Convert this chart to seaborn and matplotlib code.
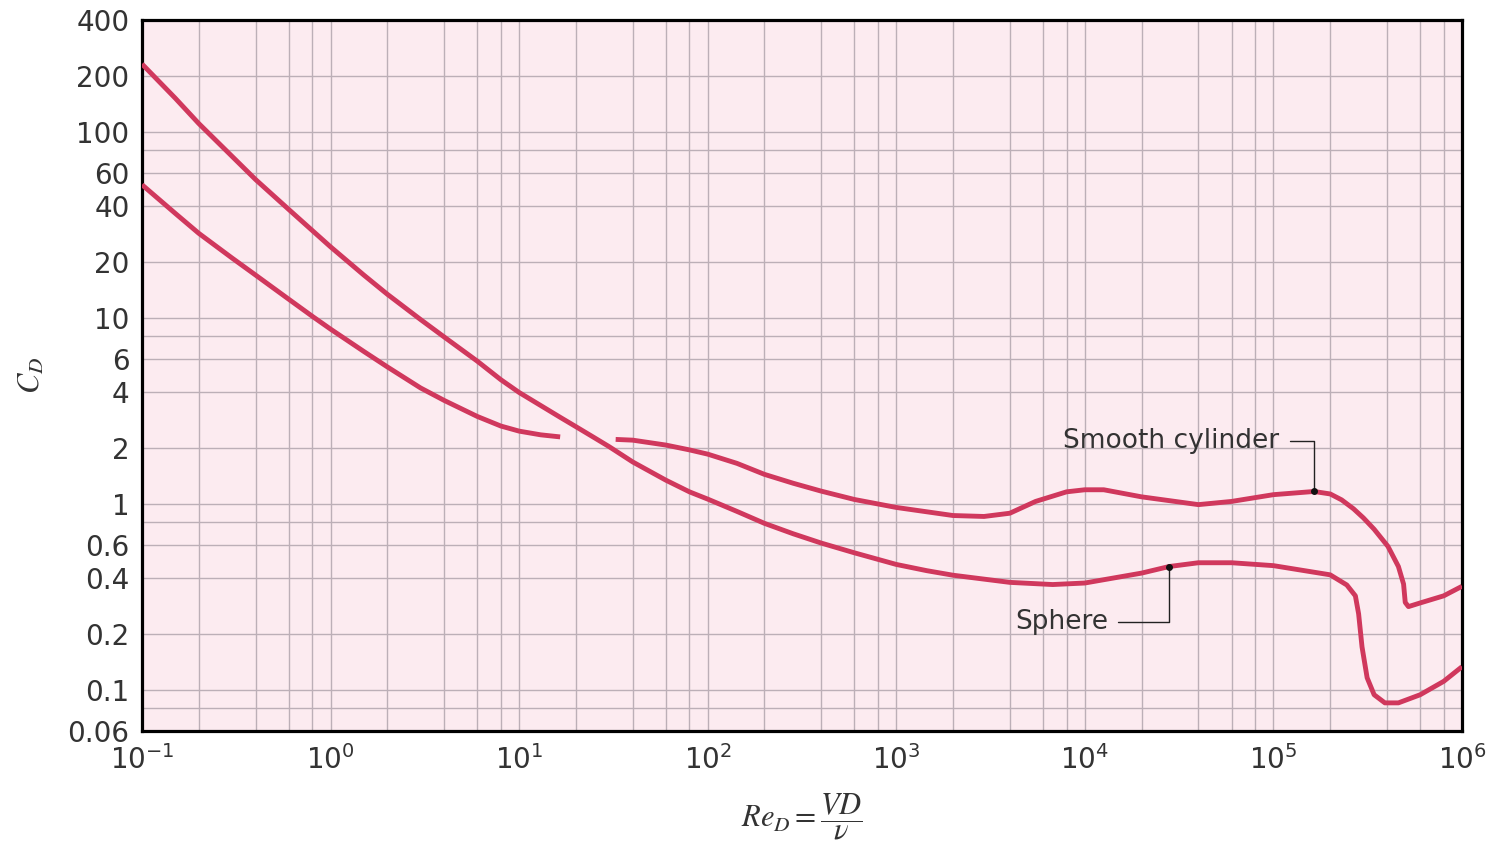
import numpy as np
import pandas as pd
import matplotlib
matplotlib.use("Agg")
import matplotlib.pyplot as plt
from matplotlib.ticker import FixedLocator, NullFormatter
import seaborn as sns

# ---------------- data ----------------
sphere_re = [0.1, 0.15, 0.2, 0.3, 0.4, 0.6, 0.8, 1.0, 1.5, 2.0, 3.0, 4.0, 6.0,
             8.0, 10.0, 13.0, 16.5, 20.0, 25.0, 30.0, 40.0, 60.0, 80.0, 100.0,
             143.0, 200.0, 284.0, 400.0, 600.0, 1000.0, 1450.0, 2000.0,
             4000.0, 6750.0, 10000.0, 20000.0, 28000.0, 40000.0, 60000.0,
             100000.0, 200000.0, 245000.0, 272000.0, 283000.0, 295000.0,
             314000.0, 342000.0, 390000.0, 460000.0, 600000.0, 800000.0,
             1000000.0]
sphere_cd = [232, 152, 111, 74, 55.5, 38.3, 29.5, 24.1, 17.0, 13.4, 9.8, 7.9, 5.85,
             4.65, 3.97, 3.38, 2.92, 2.6, 2.27, 2.03, 1.68, 1.34, 1.16, 1.06,
             0.91, 0.785, 0.69, 0.615, 0.545, 0.472, 0.437, 0.413,
             0.378, 0.368, 0.375, 0.424, 0.46, 0.482, 0.482,
             0.465, 0.415, 0.366, 0.32, 0.256, 0.17,
             0.116, 0.094, 0.085, 0.085, 0.094, 0.111,
             0.133]

cyl_low_re = [0.1, 0.15, 0.2, 0.3, 0.4, 0.6, 0.8, 1.0, 1.5, 2.0, 3.0, 4.0, 6.0,
              8.0, 10.0, 13.0, 16.5]
cyl_low_cd = [52, 36.5, 28.5, 21.0, 17.0, 12.6, 10.2, 8.7, 6.6, 5.45, 4.2, 3.6,
              2.95, 2.62, 2.46, 2.35, 2.29]

cyl_high_re = [32.5, 40.0, 60.0, 80.0, 100.0, 143.0, 200.0, 284.0, 400.0, 600.0,
               1000.0, 1450.0, 2000.0, 2920.0, 4000.0, 5480.0, 8000.0, 10000.0,
               12600.0, 20000.0, 40000.0, 60000.0, 100000.0, 164000.0, 200000.0,
               230000.0, 266000.0, 300000.0, 342000.0, 405000.0, 460000.0,
               490000.0, 500000.0, 520000.0, 600000.0, 800000.0, 1000000.0]
cyl_high_cd = [2.22, 2.2, 2.07, 1.95, 1.85, 1.65, 1.44, 1.29, 1.17, 1.055,
               0.956, 0.906, 0.865, 0.855, 0.89, 1.03, 1.16, 1.19,
               1.19, 1.09, 0.99, 1.03, 1.12, 1.165, 1.13,
               1.05, 0.94, 0.84, 0.73, 0.59, 0.46,
               0.37, 0.295, 0.28, 0.293, 0.32, 0.36]

x_major = [1e-1, 1e0, 1e1, 1e2, 1e3, 1e4, 1e5, 1e6]
x_major_labels = [r"$10^{-1}$", r"$10^{0}$", r"$10^{1}$", r"$10^{2}$",
                  r"$10^{3}$", r"$10^{4}$", r"$10^{5}$", r"$10^{6}$"]
y_major = [0.06, 0.1, 0.2, 0.4, 0.6, 1, 2, 4, 6, 10, 20, 40, 60, 100, 200, 400]
y_major_labels = ["0.06", "0.1", "0.2", "0.4", "0.6", "1", "2", "4", "6",
                  "10", "20", "40", "60", "100", "200", "400"]
y_minor = [0.08, 0.8, 8, 80]

label_cyl = "Smooth cylinder"
label_sph = "Sphere"

# ---------------- style ----------------
sns.set_theme(style="ticks")
plt.rcParams["font.family"] = ["DejaVu Sans"]
plt.rcParams["mathtext.fontset"] = "dejavusans"

curve_color = "#d0385d"
grid_color = "#bcafb7"
text_color = "#333333"

fig, ax = plt.subplots(figsize=(14.93, 8.41), dpi=100)
fig.subplots_adjust(left=142 / 1493, right=1462 / 1493,
                    top=1 - 20 / 841, bottom=1 - 731 / 841)
ax.set_facecolor("#fcebf0")

ax.set_xscale("log")
ax.set_yscale("log")

line_kw = dict(color=curve_color, linewidth=3.5, estimator=None, sort=False,
               ax=ax, legend=False)
df_s = pd.DataFrame({"Re": sphere_re, "Cd": sphere_cd})
df_c1 = pd.DataFrame({"Re": cyl_low_re, "Cd": cyl_low_cd})
df_c2 = pd.DataFrame({"Re": cyl_high_re, "Cd": cyl_high_cd})
for df in (df_s, df_c1, df_c2):
    sns.lineplot(data=df, x="Re", y="Cd", **line_kw)
for ln in ax.get_lines():
    ln.set_solid_capstyle("butt")
    ln.set_solid_joinstyle("round")
    ln.set_zorder(3)

ax.set_xlim(0.1, 1e6)
ax.set_ylim(0.06, 400)

# ticks
ax.xaxis.set_major_locator(FixedLocator(x_major))
ax.set_xticklabels(x_major_labels)
x_minor = [m * 10.0 ** k for k in range(-1, 6) for m in (2, 4, 6, 8)]
ax.xaxis.set_minor_locator(FixedLocator(x_minor))
ax.xaxis.set_minor_formatter(NullFormatter())

ax.yaxis.set_major_locator(FixedLocator(y_major))
ax.set_yticklabels(y_major_labels)
ax.yaxis.set_minor_locator(FixedLocator(y_minor))
ax.yaxis.set_minor_formatter(NullFormatter())

ax.tick_params(axis="both", which="both", length=0, labelsize=20,
               labelcolor=text_color)
ax.tick_params(axis="y", pad=9)
ax.tick_params(axis="x", pad=10)

ax.grid(True, which="both", color=grid_color, linewidth=1.0, zorder=1)
ax.set_axisbelow(True)

for sp in ax.spines.values():
    sp.set_visible(True)
    sp.set_color("black")
    sp.set_linewidth(2.3)

# axis labels
ax.set_ylabel(r"$C_D$", fontsize=22, color=text_color, math_fontfamily="stix")
ax.yaxis.set_label_coords(-0.0725, 0.5)
ax.set_xlabel(r"$Re_D = \dfrac{VD}{\nu}$", fontsize=22, color=text_color,
              math_fontfamily="stix")
ax.xaxis.set_label_coords(0.5, -0.085)

# annotations
ax.text(7660, 2.17, label_cyl, fontsize=19, color=text_color,
        ha="left", va="center", zorder=4)
ax.plot([1.22e5, 1.64e5, 1.64e5], [2.17, 2.17, 1.165], color="#222222",
        linewidth=1.0, zorder=4)
ax.plot([1.64e5], [1.165], marker="o", color="#111111", markersize=4, zorder=5)

ax.text(4270, 0.23, label_sph, fontsize=19, color=text_color,
        ha="left", va="center", zorder=4)
ax.plot([15000, 28000, 28000], [0.23, 0.23, 0.46], color="#222222",
        linewidth=1.0, zorder=4)
ax.plot([28000], [0.46], marker="o", color="#111111", markersize=4, zorder=5)

fig.savefig("out.png", dpi=100, facecolor="white")
